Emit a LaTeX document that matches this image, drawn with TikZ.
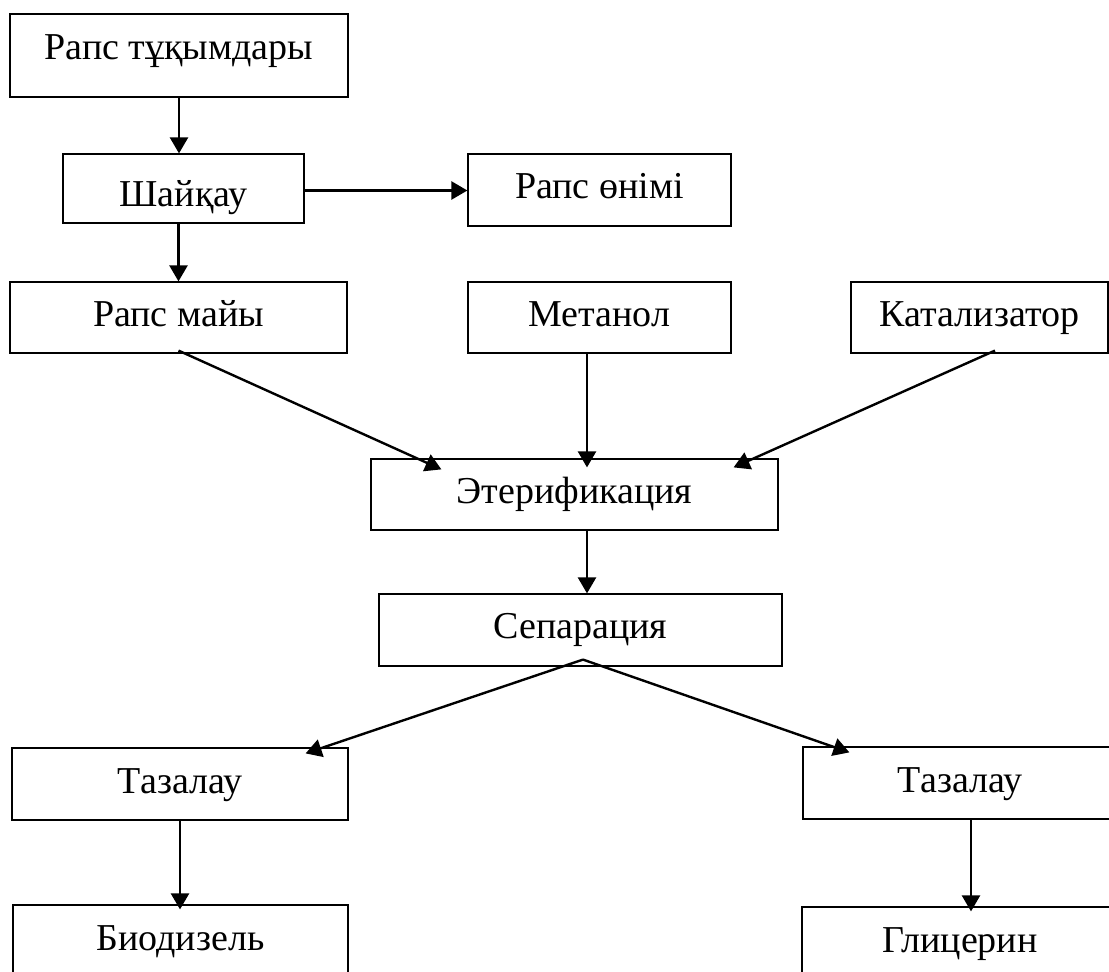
\documentclass[tikz,border=0pt]{standalone}
\usepackage{fontspec}
\setmainfont{Liberation Serif}
\usepackage{tikz}
\usetikzlibrary{arrows.meta}

\begin{document}
\begin{tikzpicture}[x=0.5pt, y=-0.5pt,
        box/.style={draw, line width=0.6pt, inner sep=0pt, text height=11pt, text depth=2pt,
                    font=\fontsize{19}{23}\selectfont},
        arr/.style={line width=1.2pt, -{Triangle[length=8pt, width=9pt]}}]
        \useasboundingbox (0,0) rectangle (1109,972);
        \clip (0,0) rectangle (1109,972);
        \node [box, minimum width=169pt, minimum height=41.5pt, text height=6.5pt] (seeds) at (179,55.5) {Рапс тұқымдары};
        \node [box, minimum width=120.5pt, minimum height=34.5pt, text height=20.5pt] (shake) at (183.5,188.5) {Шайқау};
        \node [box, minimum width=131.5pt, minimum height=36pt] (meal)  at (599.5,190)   {Рапс өнімі};      %
        \node [box, minimum width=168.5pt, minimum height=35.5pt] (oil)   at (178.5,317.5) {Рапс майы};     %
        \node [box, minimum width=131.5pt, minimum height=35.5pt] (meth)  at (599.5,317.5) {Метанол};       %
        \node [box, minimum width=128.5pt, minimum height=35.5pt] (cat)   at (979.5,317.5) {Катализатор};   %
        \node [box, minimum width=203.5pt, minimum height=35.5pt] (eter)  at (574.5,494.5) {Этерификация};  %
        \node [box, minimum width=201.5pt, minimum height=36pt] (sep)   at (580.5,630)   {Сепарация};       %
        \node [box, minimum width=168pt, minimum height=36pt] (cleanL)  at (180,784)     {Тазалау};         %
        \node [box, minimum width=157pt, minimum height=36pt] (cleanR)  at (960,783)     {Тазалау};         %
        \node [box, minimum width=167.5pt, minimum height=36pt] (bio)   at (180.5,941)   {Биодизель};       %
        \node [box, minimum width=158pt, minimum height=36pt] (gly)     at (960,943)     {Глицерин};        %
        \draw [arr] (seeds.south) -- (seeds.south |- shake.north);                                       %
        \draw [arr] ([yshift=-1pt]shake.east) -- ([yshift=-1pt]shake.east -| meal.west);                 %
        \draw [arr] (oil.north |- shake.south) -- (oil.north);                                           %
        \draw [arr] ([yshift=1.5pt]oil.south) -- ([xshift=35.5pt, yshift=-5.5pt]eter.north west);        %
        \draw [arr] ([xshift=-6.25pt]meth.south) -- ([xshift=6.25pt, yshift=-4.5pt]eter.north);          %
        \draw [arr] ([xshift=7.75pt, yshift=1.5pt]cat.south) -- ([xshift=-22.5pt, yshift=-4.5pt]eter.north east);
        \draw [arr] ([xshift=6.25pt]eter.south) -- ([xshift=3.25pt]sep.north);                           %
        \draw [arr] ([xshift=1.25pt, yshift=3.5pt]sep.south) -- ([xshift=-21.5pt, yshift=-3pt]cleanL.north east);
        \draw [arr] ([xshift=1.25pt, yshift=3.5pt]sep.south) -- ([xshift=23.5pt, yshift=-3pt]cleanR.north west);
        \draw [arr] (cleanL.south) -- ([yshift=-2.5pt]cleanL.south |- bio.north);                        %
        \draw [arr] ([xshift=5.5pt]cleanR.south) -- ([xshift=5.5pt, yshift=-2.5pt]cleanR.south |- gly.north);
       \end{tikzpicture}
\end{document}
